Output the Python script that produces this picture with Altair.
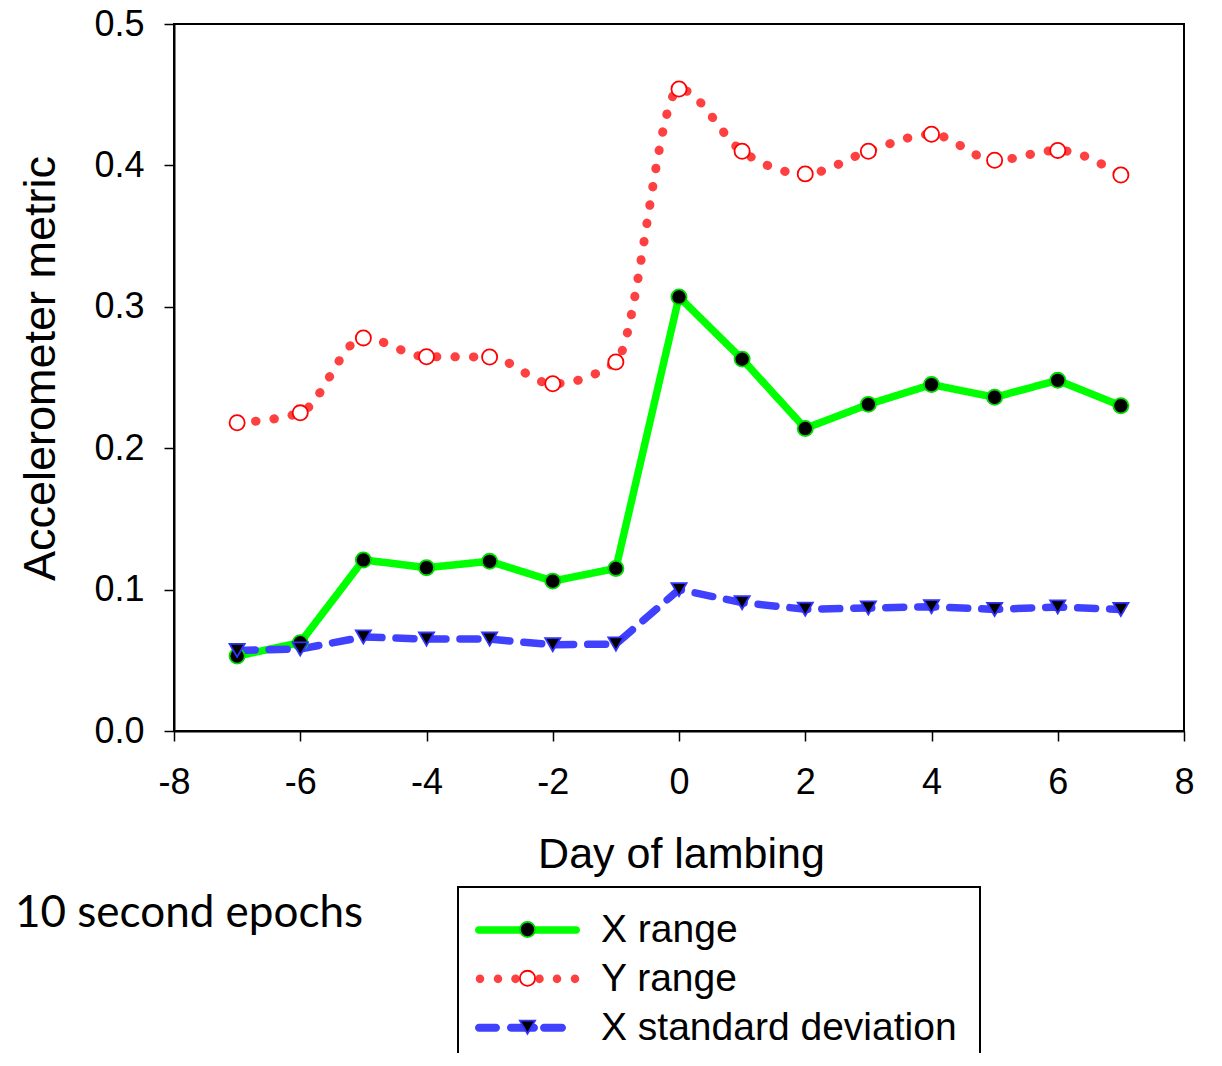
import altair as alt
import pandas as pd

# ---- data ----
days = [-7, -6, -5, -4, -3, -2, -1, 0, 1, 2, 3, 4, 5, 6, 7]
x_range = [0.053, 0.0625, 0.121, 0.1155, 0.120, 0.106, 0.115, 0.307, 0.263, 0.214, 0.231, 0.245, 0.236, 0.248, 0.230]
y_range = [0.218, 0.225, 0.278, 0.2647, 0.2645, 0.2456, 0.261, 0.454, 0.410, 0.394, 0.410, 0.422, 0.4036, 0.4106, 0.3932]
x_sd = [0.057, 0.058, 0.0665, 0.065, 0.065, 0.061, 0.0615, 0.100, 0.0908, 0.0861, 0.087, 0.0879, 0.086, 0.0877, 0.086]

series_names = ["X range", "Y range", "X standard deviation"]
x_ticks = [-8, -6, -4, -2, 0, 2, 4, 6, 8]
y_ticks = [0.0, 0.1, 0.2, 0.3, 0.4, 0.5]
annotation = "10 second epochs"

# ---- styles ----
line_colors = ["#00FF00", "#FF4040", "#4040FF"]
line_widths = [7.5, 9, 7.5]
line_dashes = [[1, 0], [0.5, 18], [18, 14]]
line_interp = ["linear", "monotone", "linear"]
point_shapes = ["circle", "circle", "triangle-down"]
point_fills = ["#000000", "#FFFFFF", "#000000"]
point_strokes = ["#00DD00", "#FF0000", "#3333FF"]
FONT = "Liberation Sans"

# legend key glyphs (legend-symbol geometry, in symbol units of 20 px)
K = 0.5523


def capsule(a, b, r):
    return (f"M{a+r:.4f},{-r:.4f}H{b-r:.4f}"
            f"C{b-r+K*r:.4f},{-r:.4f} {b:.4f},{-K*r:.4f} {b:.4f},0"
            f"C{b:.4f},{K*r:.4f} {b-r+K*r:.4f},{r:.4f} {b-r:.4f},{r:.4f}"
            f"H{a+r:.4f}"
            f"C{a+r-K*r:.4f},{r:.4f} {a:.4f},{K*r:.4f} {a:.4f},0"
            f"C{a:.4f},{-K*r:.4f} {a+r-K*r:.4f},{-r:.4f} {a+r:.4f},{-r:.4f}Z")


def dot(cx, r):
    k = K * r
    return (f"M{cx-r:.4f},0C{cx-r:.4f},{-k:.4f} {cx-k:.4f},{-r:.4f} {cx:.4f},{-r:.4f}"
            f"C{cx+k:.4f},{-r:.4f} {cx+r:.4f},{-k:.4f} {cx+r:.4f},0"
            f"C{cx+r:.4f},{k:.4f} {cx+k:.4f},{r:.4f} {cx:.4f},{r:.4f}"
            f"C{cx-k:.4f},{r:.4f} {cx-r:.4f},{k:.4f} {cx-r:.4f},0Z")


key_solid = capsule(-2.625, 2.625, 0.1875)
key_dots = "".join(dot(c, 0.215) for c in [-2.375, -1.475, -0.6, 0.6, 1.475, 2.375])
key_dash = "".join(capsule(a, b, 0.2) for a, b in [(-2.625, -1.375), (-1.025, 0.525), (0.625, 1.925)])
key_paths = [key_solid, key_dots, key_dash]

rows = []
for name, vals in zip(series_names, [x_range, y_range, x_sd]):
    for d, v in zip(days, vals):
        rows.append({"day": d, "series": name, "value": v})
df = pd.DataFrame(rows)

x_enc = alt.X(
    "day:Q",
    scale=alt.Scale(domain=[-8, 8], nice=False),
    axis=alt.Axis(
        values=x_ticks, labelExpr="'' + datum.value", labelFlush=False, labelOverlap=False,
        tickSize=10, tickWidth=1.5, tickColor="black", domainColor="black", domainWidth=2,
        labelFont=FONT, labelFontSize=36, labelColor="black", labelPadding=24,
        grid=False, title="Day of lambing", titleFont=FONT, titleFontSize=43,
        titleFontWeight="normal", titleColor="black", titleX=507, titleY=136,
        titleBaseline="alphabetic", titleAlign="center",
    ),
)
y_enc = alt.Y(
    "value:Q",
    scale=alt.Scale(domain=[0, 0.5], nice=False),
    axis=alt.Axis(
        values=y_ticks, format=".1f", labelFlush=False, labelOverlap=False,
        tickSize=10, tickWidth=1.5, tickColor="black", domainColor="black", domainWidth=2,
        labelFont=FONT, labelFontSize=36, labelColor="black", labelPadding=20,
        grid=False, title="Accelerometer metric", titleFont=FONT, titleFontSize=45,
        titleFontWeight="normal", titleColor="black", titleAngle=270, titleX=-120, titleY=344,
        titleBaseline="alphabetic", titleAlign="center",
    ),
)

LEG_X, LEG_Y, LEG_PAD, ROW_PAD, LEG_FS = 284, 863, 23, 8.85, 39

lines = []
for name, col, wid, dash, interp in zip(series_names, line_colors, line_widths, line_dashes, line_interp):
    lines.append(
        alt.Chart(df)
        .transform_filter(alt.datum.series == name)
        .mark_line(interpolate=interp, color=col, strokeWidth=wid, strokeDash=dash,
                   strokeCap="round", strokeJoin="round")
        .encode(x=x_enc, y=y_enc)
    )

# legend keys (line styles): empty layer that only feeds the legend
key_legend = alt.Legend(
    title=None, orient="none", legendX=LEG_X, legendY=LEG_Y,
    symbolSize=1600, symbolStrokeWidth=0, symbolOffset=26.5, symbolOpacity=1,
    labelFont=FONT, labelFontSize=LEG_FS, labelColor="black", labelOffset=53.5, labelLimit=0,
    rowPadding=ROW_PAD, padding=LEG_PAD, strokeColor="black",
)
keys = (
    alt.Chart(df)
    .transform_filter("false")
    .mark_point(filled=True, opacity=1, strokeWidth=0)
    .encode(
        x=x_enc, y=y_enc,
        shape=alt.Shape("series:N", scale=alt.Scale(domain=series_names, range=key_paths), legend=key_legend),
        fill=alt.Fill("series:N", scale=alt.Scale(domain=series_names, range=line_colors), legend=key_legend),
    )
)

# markers, with their own legend drawn on top of the line keys
pt_domain = [s + " " for s in series_names]
pt_legend = alt.Legend(
    title=None, orient="none", legendX=LEG_X, legendY=LEG_Y, labelExpr="' '",
    labelFont=FONT, labelFontSize=LEG_FS, labelOffset=0, rowPadding=ROW_PAD, padding=LEG_PAD,
    symbolStrokeWidth=1.8, symbolSize=230, symbolOffset=27, symbolOpacity=1,
    zindex=1, strokeColor="transparent",
)
points = (
    alt.Chart(df)
    .transform_calculate(pt="datum.series + ' '")
    .mark_point(filled=True, size=230, strokeWidth=1.8, opacity=1)
    .encode(
        x=x_enc,
        y=y_enc,
        shape=alt.Shape("pt:N", scale=alt.Scale(domain=pt_domain, range=point_shapes), legend=pt_legend),
        fill=alt.Fill("pt:N", scale=alt.Scale(domain=pt_domain, range=point_fills), legend=pt_legend),
        stroke=alt.Stroke("pt:N", scale=alt.Scale(domain=pt_domain, range=point_strokes), legend=pt_legend),
    )
)

note = (
    alt.Chart(alt.Data(values=[{"t": annotation}]))
    .mark_text(align="left", baseline="alphabetic", font="Lato", fontSize=44, color="black")
    .encode(x=alt.value(-159), y=alt.value(903), text="t:N")
)

chart = (
    alt.layer(*lines, keys, points, note)
    .resolve_scale(shape="independent", fill="independent", stroke="independent")
    .properties(
        width=1010, height=707,
        autosize=alt.AutoSizeParams(type="none"),
        padding={"left": 166, "top": 16, "right": 30, "bottom": 322},
        background="white",
    )
    .configure_view(stroke="black", strokeWidth=2)
    .configure_legend(strokeWidth=2)
)

chart.save("out.html", embed_options={"renderer": "svg", "actions": False})
